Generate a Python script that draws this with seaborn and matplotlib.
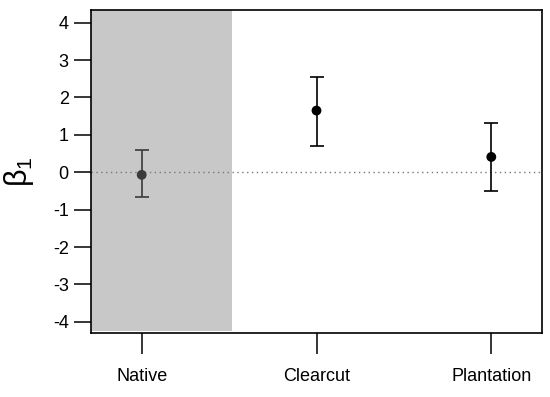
import matplotlib
matplotlib.use("Agg")
import matplotlib.pyplot as plt
import seaborn as sns
import pandas as pd
import numpy as np

categories = ["Native", "Clearcut", "Plantation"]
estimate = [-0.07, 1.65, 0.41]
lower = [-0.66, 0.70, -0.50]
upper = [0.60, 2.54, 1.32]
point_colors = ["#3a3a3a", "#000000", "#000000"]
yticks = [-4, -3, -2, -1, 0, 1, 2, 3, 4]

sns.set_style("ticks")
plt.rcParams["font.family"] = ["Liberation Sans", "DejaVu Sans"]
plt.rcParams["text.color"] = "black"
plt.rcParams["xtick.color"] = "black"
plt.rcParams["ytick.color"] = "black"
plt.rcParams["axes.labelcolor"] = "black"

df = pd.DataFrame({"habitat": categories, "beta": estimate,
                   "lo": lower, "hi": upper, "col": point_colors})

fig = plt.figure(figsize=(5.5, 3.97), dpi=100)
ax = fig.add_axes([91/550, 1-333/397, (542-91)/550, (333-10)/397])

ax.set_xlim(-0.29, 2.29)
ax.set_ylim(-4.3, 4.34)

# shaded Native region
ax.axvspan(-0.29, 0.515, ymin=0.007, ymax=1.0, color="#c8c8c8", lw=0, zorder=0)
ax.axhline(0, color="#777777", ls=(0, (1, 2.5)), lw=1.0, zorder=1)

for i, r in df.iterrows():
    ax.errorbar(i, r["beta"], yerr=[[r["beta"] - r["lo"]], [r["hi"] - r["beta"]]],
                fmt="none", ecolor=r["col"], elinewidth=1.2, capsize=4.8,
                capthick=1.2, zorder=2)

sns.scatterplot(data=df, x="habitat", y="beta", hue="habitat",
                palette=dict(zip(categories, point_colors)), legend=False,
                s=50, marker="o", edgecolor="none", ax=ax, zorder=3)

ax.set_xlim(-0.29, 2.29)
ax.set_xticks([0, 1, 2])
ax.set_xticklabels(categories)
ax.set_yticks(yticks)
ax.set_yticklabels([str(t) for t in yticks])
ax.set_xlabel("")
ax.set_ylabel(r"$\mathregular{β_1}$", fontsize=22, labelpad=12, color="black")

for s in ax.spines.values():
    s.set_visible(True)
    s.set_color("black")
    s.set_linewidth(1.2)
ax.tick_params(axis="y", length=12, width=1.1, labelsize=13, pad=4, direction="out",
               color="black", labelcolor="black")
ax.tick_params(axis="x", length=15, width=1.1, labelsize=13, pad=10, direction="out",
               color="black", labelcolor="black")

fig.savefig("out.png", dpi=100)
